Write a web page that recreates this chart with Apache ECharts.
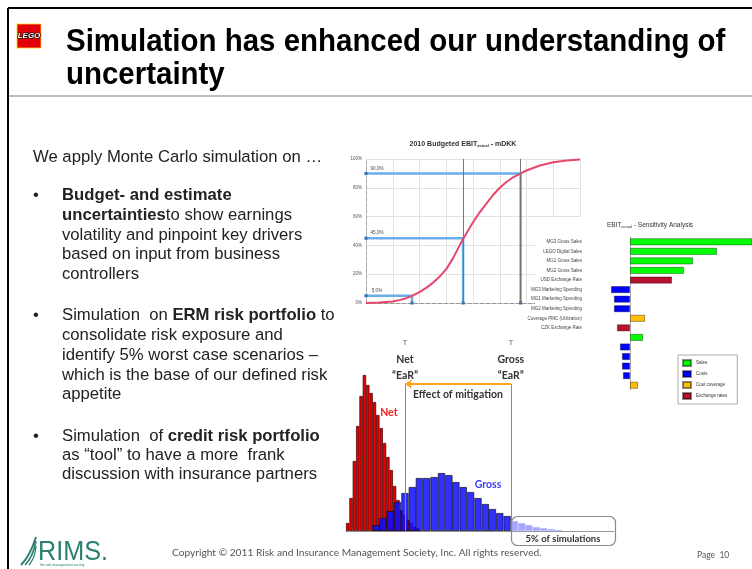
<!DOCTYPE html>
<html>
<head>
<meta charset="utf-8">
<script src="https://cdn.jsdelivr.net/npm/echarts@6/dist/echarts.min.js"></script>
<style>
html,body{margin:0;padding:0;background:#fff}
#chart{width:752px;height:569px}
</style>
</head>
<body>
<div id="chart"></div>
<script>
// --- cumulative curve, x in grid steps, y in %
var cdfX = [0, 0.5, 1, 1.25, 1.5, 1.72, 2, 2.25, 2.5, 2.75, 3, 3.25, 3.5, 3.63, 4, 4.25, 4.5, 4.75, 5, 5.25, 5.5, 5.78, 6, 6.5, 7, 7.5, 8];
var cdfY = [0, 0.3, 1, 2, 3.3, 5, 7.5, 10.5, 14, 18.3, 23.5, 31, 40, 44.5, 56, 63, 69, 75, 80, 84, 87.3, 90, 92, 95.5, 97.8, 99, 99.6];
var cdfMarkX = [1.72, 3.63, 5.78];
var cdfMarkY = [5, 45, 90];
var cdfMarkLabels = ['5,0%', '45,0%', '90,0%'];

// --- sensitivity (tornado)
var sensLabels = ['MG3 Gross Sales', 'LEGO Digital Sales', 'MG1 Gross Sales', 'MG2 Gross Sales',
    'USD Exchange Rate', 'MG3 Marketing Spending', 'MG1 Marketing Spending', 'MG2 Marketing Spending',
    'Coverage PMC (Utilization)', 'CZK Exchange Rate', '', '', '', '', '', ''];
var sensValues = [125, 87, 63, 54, 42, -19, -16, -16, 15, -13, 13, -10, -8, -8, -7, 8];
var sensGroup = ['Sales', 'Sales', 'Sales', 'Sales', 'Exchange rates', 'Costs', 'Costs', 'Costs',
    'Cost coverage', 'Exchange rates', 'Sales', 'Costs', 'Costs', 'Costs', 'Costs', 'Cost coverage'];
var sensGroups = ['Sales', 'Costs', 'Cost coverage', 'Exchange rates'];
var sensColors = {'Sales': '#00ff00', 'Costs': '#0000ff', 'Cost coverage': '#ffc000', 'Exchange rates': '#b5122e'};

// --- histogram (net / gross)
var netX = [0.5, 1.5, 2.5, 3.5, 4.5, 5.5, 6.5, 7.5, 8.5, 9.5, 10.5, 11.5, 12.5, 13.5, 14.5, 15.5, 16.5, 17.5, 18.5, 19.5, 20.5, 21.5];
var netH = [8, 33, 70, 105, 135, 156, 146, 138, 129, 116, 103, 88, 74, 61, 45, 31, 21, 16, 11, 8, 4, 3];
var grossX = [8.9, 11.0, 13.2, 15.4, 17.6, 19.8, 21.9, 24.1, 26.3, 28.5, 30.7, 32.8, 35.0, 37.2, 39.4, 41.6, 43.7, 45.9, 48.1, 50.3, 52.5, 54.6, 56.8, 59.0, 61.2, 63.4];
var grossH = [6, 13, 20, 29, 38, 44, 53, 53, 54, 58, 56, 49, 44, 39, 33, 27, 22, 18, 15, 10, 8, 6, 4, 3, 2, 1];
var netEaR = 17.6;
var grossEaR = 49.2;
var arrowY = 147;

var SANS = 'Liberation Sans';
var CAL = 'Lato';

var chart = echarts.init(document.getElementById('chart'));

function txt(x, y, text, size, opt) {
    opt = opt || {};
    return {
        type: 'text', x: x, y: y, z: 10,
        scaleX: opt.scaleX || 1,
        style: {
            text: text,
            fontSize: size,
            fontFamily: opt.family || SANS,
            fontWeight: opt.weight || 'normal',
            fill: opt.color || '#222',
            rich: opt.rich,
            align: opt.align || 'left', textAlign: opt.align || 'left',
            verticalAlign: 'middle', textVerticalAlign: 'middle'
        }
    };
}
function hline(x1, y1, x2, y2, color, w) {
    return {type: 'line', z: 10, shape: {x1: x1, y1: y1, x2: x2, y2: y2}, style: {stroke: color, lineWidth: w}};
}

var BODY = 16.7;
var boldRich = {b: {fontWeight: 'bold', fontSize: BODY, fontFamily: SANS, fill: '#222'}};
var bodyLines = [
    [33, 157, 'We apply Monte Carlo simulation on …'],
    [62, 195, '{b|Budget- and estimate}'],
    [62, 215, '{b|uncertainties}to show earnings'],
    [62, 235, 'volatility and pinpoint key drivers'],
    [62, 254, 'based on input from business'],
    [62, 274, 'controllers'],
    [62, 315, 'Simulation  on {b|ERM risk portfolio} to'],
    [62, 335, 'consolidate risk exposure and'],
    [62, 355, 'identify 5% worst case scenarios –'],
    [62, 375, 'which is the base of our defined risk'],
    [62, 394, 'appetite'],
    [62, 436, 'Simulation  of {b|credit risk portfolio}'],
    [62, 455, 'as “tool” to have a more  frank'],
    [62, 474, 'discussion with insurance partners']
];
var bulletY = [195, 315, 436];

var graphics = [
    hline(8, 8, 752, 8, '#000', 2),
    hline(8, 8, 8, 569, '#000', 2),
    hline(9, 96, 752, 96, '#bdbdbd', 2),
    {type: 'rect', z: 10, shape: {x: 17, y: 24, width: 24, height: 24}, style: {fill: '#e3000b', stroke: '#ffd400', lineWidth: 0.8}},
    {type: 'text', x: 29, y: 36, z: 11, style: {text: 'LEGO', fontSize: 8, fontStyle: 'italic', fontWeight: 'bold', fontFamily: SANS,
        fill: '#fff', stroke: '#000', lineWidth: 1.2, align: 'center', textAlign: 'center', verticalAlign: 'middle', textVerticalAlign: 'middle'}},
    txt(66, 42, 'Simulation has enhanced our understanding of', 31, {weight: 'bold', color: '#000', scaleX: 0.95}),
    txt(66, 75, 'uncertainty', 31, {weight: 'bold', color: '#000', scaleX: 0.95}),
    // white background of the sensitivity picture over the cumulative grid
    {type: 'rect', z: 1, shape: {x: 535, y: 217, width: 217, height: 100}, style: {fill: '#fff'}},
    txt(463, 144, '{a|2010 Budgeted EBIT}{s|actual}{a| - mDKK}', 7, {align: 'center', rich: {
        a: {fontSize: 7, fontWeight: 'bold', fontFamily: SANS, fill: '#333'},
        s: {fontSize: 4, fontWeight: 'bold', fontFamily: SANS, fill: '#333', verticalAlign: 'bottom', padding: [3, 0, 0, 0]}}}),
    txt(650, 225, '{a|EBIT}{s|actual}{a| - Sensitivity Analysis}', 6.5, {align: 'center', rich: {
        a: {fontSize: 6.5, fontFamily: SANS, fill: '#333'},
        s: {fontSize: 4, fontFamily: SANS, fill: '#333', verticalAlign: 'bottom', padding: [3, 0, 0, 0]}}}),
    {type: 'rect', z: 10, shape: {x: 511.5, y: 516.5, width: 104, height: 29, r: 6}, style: {fill: 'none', stroke: '#8a8a8a', lineWidth: 1.2}},
    txt(563, 539, '5% of simulations', 9.5, {family: CAL, weight: 'bold', color: '#333', align: 'center'}),
    // footer
    {type: 'bezierCurve', z: 10, shape: {x1: 21, y1: 565, x2: 36, y2: 537, cpx1: 30, cpy1: 556}, style: {stroke: '#2b8070', lineWidth: 2, fill: 'none'}},
    {type: 'bezierCurve', z: 10, shape: {x1: 25, y1: 565, x2: 36, y2: 541, cpx1: 33, cpy1: 557}, style: {stroke: '#2b8070', lineWidth: 1.6, fill: 'none'}},
    {type: 'bezierCurve', z: 10, shape: {x1: 29, y1: 565, x2: 36, y2: 546, cpx1: 35, cpy1: 558}, style: {stroke: '#2b8070', lineWidth: 1.3, fill: 'none'}},
    txt(38, 552, 'RIMS.', 28, {color: '#2b8070', family: SANS, scaleX: 0.9}),
    txt(40, 565, 'the risk management society', 3.5, {color: '#2b8070'}),
    txt(172, 553, 'Copyright © 2011 Risk and Insurance Management Society, Inc. All rights reserved.', 10.2, {family: CAL, color: '#555'}),
    txt(697, 555, 'Page  10', 8.5, {family: CAL, color: '#555'})
];
bodyLines.forEach(function (l) {
    graphics.push(txt(l[0], l[1], l[2], BODY, {rich: boldRich}));
});
bulletY.forEach(function (y) {
    graphics.push(txt(33, y, '•', BODY));
});

var guideSeries = cdfMarkX.map(function (x, i) {
    return {
        type: 'line', xAxisIndex: 0, yAxisIndex: 0, z: 3, silent: true,
        symbol: 'rect', symbolSize: 3,
        lineStyle: {color: '#6aaee8', width: 2.5},
        itemStyle: {color: '#2c6fb8'},
        data: [
            {value: [0, cdfMarkY[i]], label: {show: true, formatter: cdfMarkLabels[i], position: 'top', offset: [11, 0], distance: 1, fontSize: 4.5, color: '#444'}},
            {value: [x, cdfMarkY[i]], symbolSize: 0},
            {value: [x, 0]}
        ]
    };
});

var sensSeries = sensGroups.map(function (g) {
    return {
        name: g, type: 'bar', xAxisIndex: 1, yAxisIndex: 1, z: 4,
        barWidth: 7, barGap: '-100%',
        itemStyle: {color: sensColors[g], borderColor: 'rgba(0,0,0,0.45)', borderWidth: 0.8},
        data: sensValues.map(function (v, i) { return sensGroup[i] === g ? v : null; })
    };
});

var eaRLabel = {
    show: true, position: 'end', distance: 0,
    rich: {
        t: {fontSize: 8, color: '#666', lineHeight: 18, fontFamily: SANS},
        b: {fontSize: 10.5, fontWeight: 'bold', color: '#333', lineHeight: 16, fontFamily: CAL}
    }
};
var eaRLine = {color: '#8a8a8a', width: 1, type: 'solid'};

var option = {
    animation: false,
    backgroundColor: '#fff',
    graphic: {elements: graphics},
    legend: {
        data: sensGroups, left: 678, top: 355, orient: 'vertical',
        itemWidth: 8, itemHeight: 6, itemGap: 3, icon: 'rect',
        padding: [4, 10, 4, 4], borderColor: '#aaa', borderWidth: 1, backgroundColor: '#fff',
        textStyle: {fontSize: 4.5, color: '#333', fontFamily: SANS}
    },
    grid: [
        {left: 366, top: 159, width: 214, height: 144},
        {left: 605, top: 237, width: 147, height: 153},
        {left: 346, top: 371, width: 268, height: 160}
    ],
    xAxis: [
        {gridIndex: 0, type: 'value', min: 0, max: 8, interval: 1,
            axisLabel: {show: false}, axisTick: {show: false},
            axisLine: {lineStyle: {color: '#999', type: 'dashed', width: 1}},
            splitLine: {lineStyle: {color: '#e2e2e2'}}},
        {gridIndex: 1, type: 'value', min: -25, max: 122, show: false},
        {gridIndex: 2, type: 'value', min: 0, max: 80,
            axisLabel: {show: false}, axisTick: {show: false}, splitLine: {show: false},
            axisLine: {lineStyle: {color: '#999'}}},
        {gridIndex: 2, type: 'value', min: 0, max: 80, show: false}
    ],
    yAxis: [
        {gridIndex: 0, type: 'value', min: 0, max: 100, interval: 20,
            axisLabel: {formatter: '{value}%', fontSize: 4.5, color: '#555', margin: 4},
            axisLine: {show: true, lineStyle: {color: '#aaa', type: 'dashed'}},
            axisTick: {show: false},
            splitLine: {lineStyle: {color: '#e2e2e2'}}},
        {gridIndex: 1, type: 'category', inverse: true, data: sensLabels, z: 3,
            axisLine: {lineStyle: {color: '#aaa'}}, axisTick: {show: false},
            axisLabel: {fontSize: 4.5, color: '#444', margin: 23, interval: 0}},
        {gridIndex: 2, type: 'value', min: 0, max: 160, show: false}
    ],
    series: [
        {
            type: 'line', xAxisIndex: 0, yAxisIndex: 0, z: 4, silent: true,
            data: cdfX.map(function (x, i) { return [x, cdfY[i]]; }),
            smooth: false, showSymbol: false,
            lineStyle: {color: '#e8466b', width: 2},
            markLine: {
                silent: true, symbol: 'none', label: {show: false},
                lineStyle: {color: '#777', width: 1, type: 'solid'},
                data: [{xAxis: cdfMarkX[1]}, {xAxis: cdfMarkX[2]}]
            }
        }
    ].concat(guideSeries, sensSeries, [
        {
            type: 'bar', xAxisIndex: 2, yAxisIndex: 2, z: 2, silent: true,
            barWidth: 3.35,
            data: netX.map(function (x, i) { return [x, netH[i]]; }),
            itemStyle: {color: '#e60000', borderColor: '#3b0000', borderWidth: 0.7},
            markPoint: {
                symbol: 'circle', symbolSize: 1, itemStyle: {color: 'rgba(0,0,0,0)'},
                label: {show: true, position: 'inside', formatter: 'Net', color: '#ff1a1a', fontWeight: 'bold', fontSize: 10.5, fontFamily: CAL},
                data: [{coord: [12.8, 118]}]
            }
        },
        {
            type: 'bar', xAxisIndex: 3, yAxisIndex: 2, z: 3, silent: true,
            barWidth: 7.3,
            data: grossX.map(function (x, i) {
                if (x > grossEaR) {
                    return {value: [x, grossH[i]], itemStyle: {color: '#9a9aff', borderColor: '#b8b8ff', opacity: 0.9}};
                }
                return [x, grossH[i]];
            }),
            itemStyle: {color: '#0c0cff', borderColor: '#101010', borderWidth: 0.8, opacity: 0.85},
            markLine: {
                silent: true, symbol: 'none',
                data: [
                    [{coord: [netEaR, 0], lineStyle: eaRLine, label: echarts.util.extend({formatter: '{t|T}\n{b|Net}\n{b|“EaR”}'}, eaRLabel)},
                        {coord: [netEaR, arrowY]}],
                    [{coord: [grossEaR, 0], lineStyle: eaRLine, label: echarts.util.extend({formatter: '{t|T}\n{b|Gross}\n{b|“EaR”}'}, eaRLabel)},
                        {coord: [grossEaR, arrowY]}],
                    [{coord: [netEaR, arrowY], symbol: 'arrow', symbolSize: 7,
                        lineStyle: {color: '#ffa31a', width: 2, type: 'solid'},
                        label: {show: true, position: 'insideMiddleBottom', formatter: 'Effect of mitigation',
                            fontSize: 10.5, fontWeight: 'bold', color: '#333', fontFamily: CAL}},
                        {coord: [grossEaR, arrowY], symbol: 'none'}]
                ]
            },
            markPoint: {
                symbol: 'circle', symbolSize: 1, itemStyle: {color: 'rgba(0,0,0,0)'},
                label: {show: true, position: 'inside', formatter: 'Gross', color: '#3a3aff', fontWeight: 'bold', fontSize: 10.5, fontFamily: CAL},
                data: [{coord: [42.4, 46]}]
            }
        }
    ])
};
chart.setOption(option);
</script>
</body>
</html>
